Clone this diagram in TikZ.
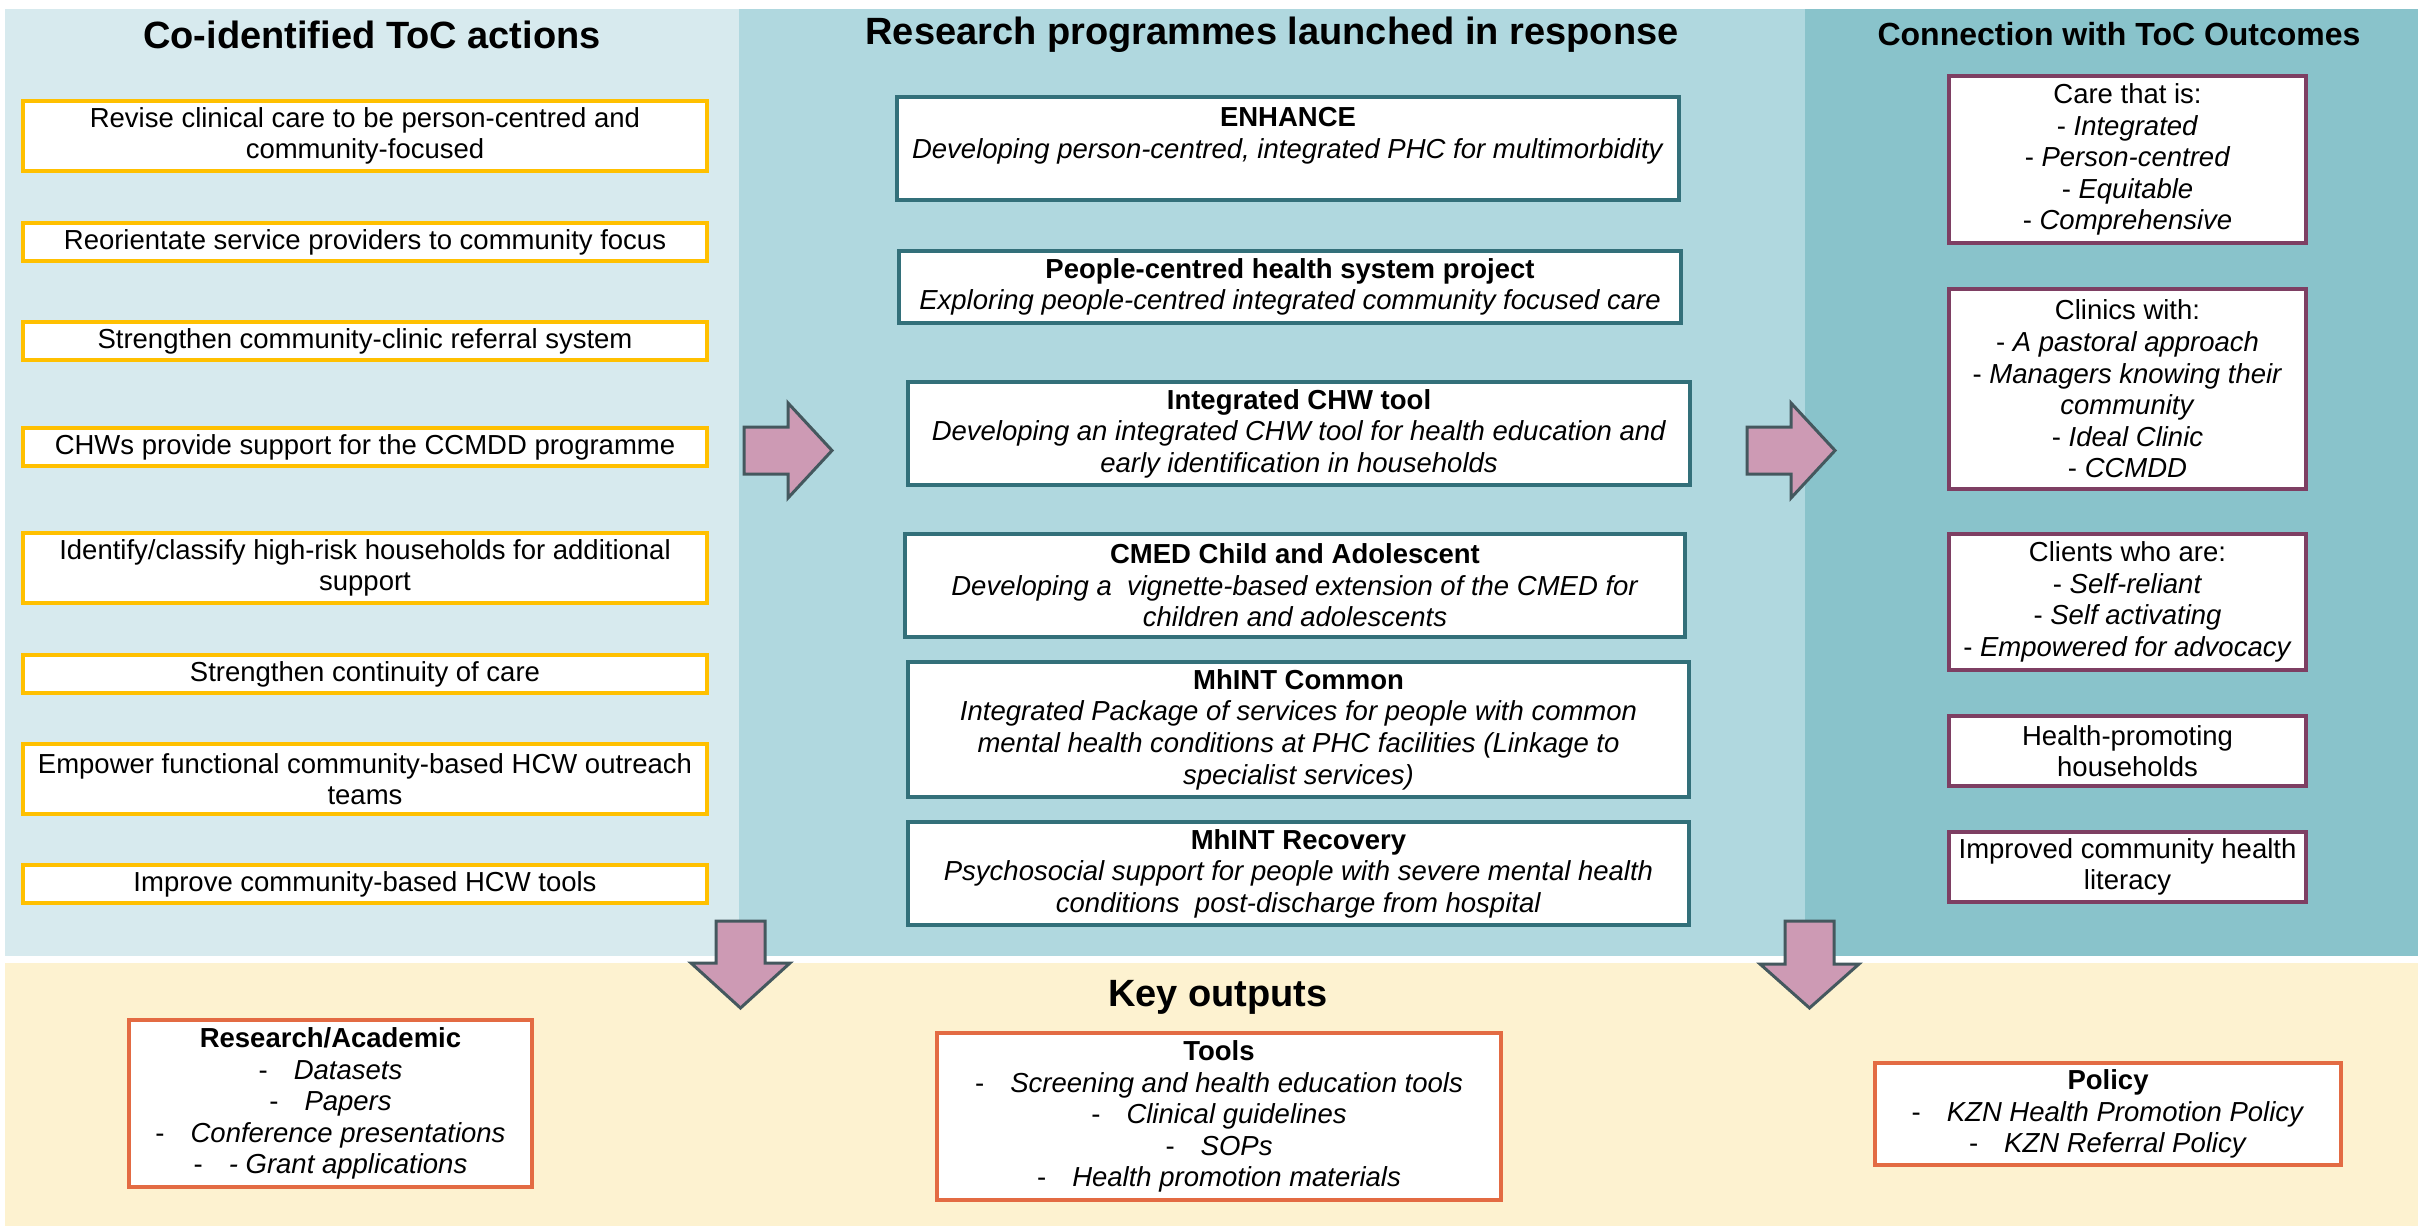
\documentclass[tikz,border=0pt]{standalone}
\usepackage{fontspec}
\setmainfont{Liberation Sans}
\definecolor{panelA}{HTML}{D7EAEE}
\definecolor{panelB}{HTML}{B0D8DF}
\definecolor{panelC}{HTML}{89C3CB}
\definecolor{panelD}{HTML}{FDF2D0}
\definecolor{actline}{HTML}{FFC000}
\definecolor{progline}{HTML}{33707A}
\definecolor{outline}{HTML}{7E3F63}
\definecolor{keyline}{HTML}{E36B43}
\definecolor{arrowfill}{HTML}{CD9AB4}
\definecolor{arrowline}{HTML}{44585E}
\tikzset{
  body/.style={font=\fontsize{13.75}{15.8}\selectfont, align=center, inner sep=0pt, fill=white},
  actbox/.style={body, draw=actline, line width=2pt, minimum width=342pt},
  progbox/.style={body, draw=progline, line width=1.6pt},
  outbox/.style={body, draw=outline, line width=1.6pt, minimum width=178.5pt},
  keybox/.style={body, draw=keyline, line width=2pt},
  heading/.style={font=\bfseries\fontsize{19}{22}\selectfont, inner sep=0pt},
  blockarrow/.style={fill=arrowfill, draw=arrowline, line width=1.5pt, line join=miter},
}
\begin{document}
\begin{tikzpicture}[x=0.5pt, y=-0.5pt]
\useasboundingbox (0,0) rectangle (2418,1226);
\fill[white] (0,0) rectangle (2418,1226);

% background panels
\fill[panelA] (5,9) rectangle (739,956);
\fill[panelB] (739,9) rectangle (1805,956);
\fill[panelC] (1805,9) rectangle (2418,956);
\fill[panelD] (5,963) rectangle (2418,1226);

% column headings
\node[heading] (h1) at (372,35) {Co-identified ToC actions};
\node[heading] (h2) at (1272,35) {Research programmes launched in response};
\node[heading, font=\bfseries\fontsize{16}{19}\selectfont] (h3) at (2119,34) {Connection with ToC Outcomes};
\node[heading] (h4) at (1218,997) {Key outputs};

% co-identified actions
\node[actbox, minimum height=35pt] (a1) at (365,136) {Revise clinical care to be person-centred and\\community-focused};
\node[actbox, minimum height=19pt] (a2) at (365,242) {Reorientate service providers to community focus};
\node[actbox, minimum height=19pt] (a3) at (365,341) {Strengthen community-clinic referral system};
\node[actbox, minimum height=19pt] (a4) at (365,447) {CHWs provide support for the CCMDD programme};
\node[actbox, minimum height=35pt] (a5) at (365,568) {Identify/classify high-risk households for additional\\support};
\node[actbox, minimum height=19pt] (a6) at (365,674) {Strengthen continuity of care};
\node[actbox, minimum height=35pt] (a7) at (365,779) {Empower functional community-based HCW outreach\\teams};
\node[actbox, minimum height=19pt] (a8) at (365,884) {Improve community-based HCW tools};

% research programmes
\node[progbox, minimum width=391pt, minimum height=51.5pt] (p1) at (1288,148.5)
  {\textbf{ENHANCE}\\\textit{Developing person-centred, integrated PHC for multimorbidity}\\\mbox{}};
\node[progbox, minimum width=391pt, minimum height=36pt] (p2) at (1290,287)
  {\textbf{People-centred health system project}\\\textit{Exploring people-centred integrated community focused care}};
\node[progbox, minimum width=391pt, minimum height=51.5pt] (p3) at (1299,433.5)
  {\textbf{Integrated CHW tool}\\\textit{Developing an integrated CHW tool for health education and}\\\textit{early identification in households}};
\node[progbox, minimum width=390pt, minimum height=51.5pt] (p4) at (1295,585.5)
  {\textbf{CMED Child and Adolescent}\\\textit{Developing a\ \ vignette-based extension of the CMED for}\\\textit{children and adolescents}};
\node[progbox, minimum width=390.5pt, minimum height=67.5pt] (p5) at (1298.5,729.5)
  {\textbf{MhINT Common}\\\textit{Integrated Package of services for people with common}\\\textit{mental health conditions at PHC facilities (Linkage to}\\\textit{specialist services)}};
\node[progbox, minimum width=390.5pt, minimum height=51.5pt] (p6) at (1298.5,873.5)
  {\textbf{MhINT Recovery}\\\textit{Psychosocial support for people with severe mental health}\\\textit{conditions\ \ post-discharge from hospital}};

% ToC outcomes
\node[outbox, minimum height=83.5pt] (o1) at (2127.5,159.5)
  {Care that is:\\- \textit{Integrated}\\- \textit{Person-centred}\\- \textit{Equitable}\\- \textit{Comprehensive}};
\node[outbox, minimum height=100pt] (o2) at (2127.5,389)
  {Clinics with:\\- \textit{A pastoral approach}\\- \textit{Managers knowing their}\\\textit{community}\\- \textit{Ideal Clinic}\\- \textit{CCMDD}};
\node[outbox, minimum height=68pt] (o3) at (2127.5,602)
  {Clients who are:\\- \textit{Self-reliant}\\- \textit{Self activating}\\- \textit{Empowered for advocacy}};
\node[outbox, minimum height=35pt] (o4) at (2127.5,751) {Health-promoting\\households};
\node[outbox, minimum height=35pt] (o5) at (2127.5,867) {Improved community health\\literacy};

% key outputs
\node[keybox, minimum width=201.5pt, minimum height=83.5pt] (k1) at (330.5,1103.5)
  {\textbf{Research/Academic}\\-\hspace{13pt}\textit{Datasets}\\-\hspace{13pt}\textit{Papers}\\-\hspace{13pt}\textit{Conference presentations}\\-\hspace{13pt}\textit{- Grant applications}};
\node[keybox, minimum width=282pt, minimum height=83.5pt] (k2) at (1219,1116.5)
  {\textbf{Tools}\\-\hspace{13pt}\textit{Screening and health education tools}\\-\hspace{13pt}\textit{Clinical guidelines}\\-\hspace{13pt}\textit{SOPs}\\-\hspace{13pt}\textit{Health promotion materials}};
\node[keybox, minimum width=233pt, minimum height=51pt] (k3) at (2108,1114)
  {\textbf{Policy}\\-\hspace{13pt}\textit{KZN Health Promotion Policy}\\-\hspace{13pt}\textit{KZN Referral Policy}};

% block arrows between the columns and down to the outputs
\draw[blockarrow] (744,427) -- (788,427) -- (788,403) -- (832,450.5) -- (788,498) -- (788,474) -- (744,474) -- cycle;
\draw[blockarrow] (1747,427) -- (1791,427) -- (1791,403) -- (1835,450.5) -- (1791,498) -- (1791,474) -- (1747,474) -- cycle;
\draw[blockarrow] (716,921) -- (765,921) -- (765,963) -- (790,963) -- (740.5,1008) -- (691,963) -- (716,963) -- cycle;
\draw[blockarrow] (1785,921) -- (1834,921) -- (1834,964) -- (1859,964) -- (1809.5,1008) -- (1760,964) -- (1785,964) -- cycle;
\end{tikzpicture}
\end{document}
